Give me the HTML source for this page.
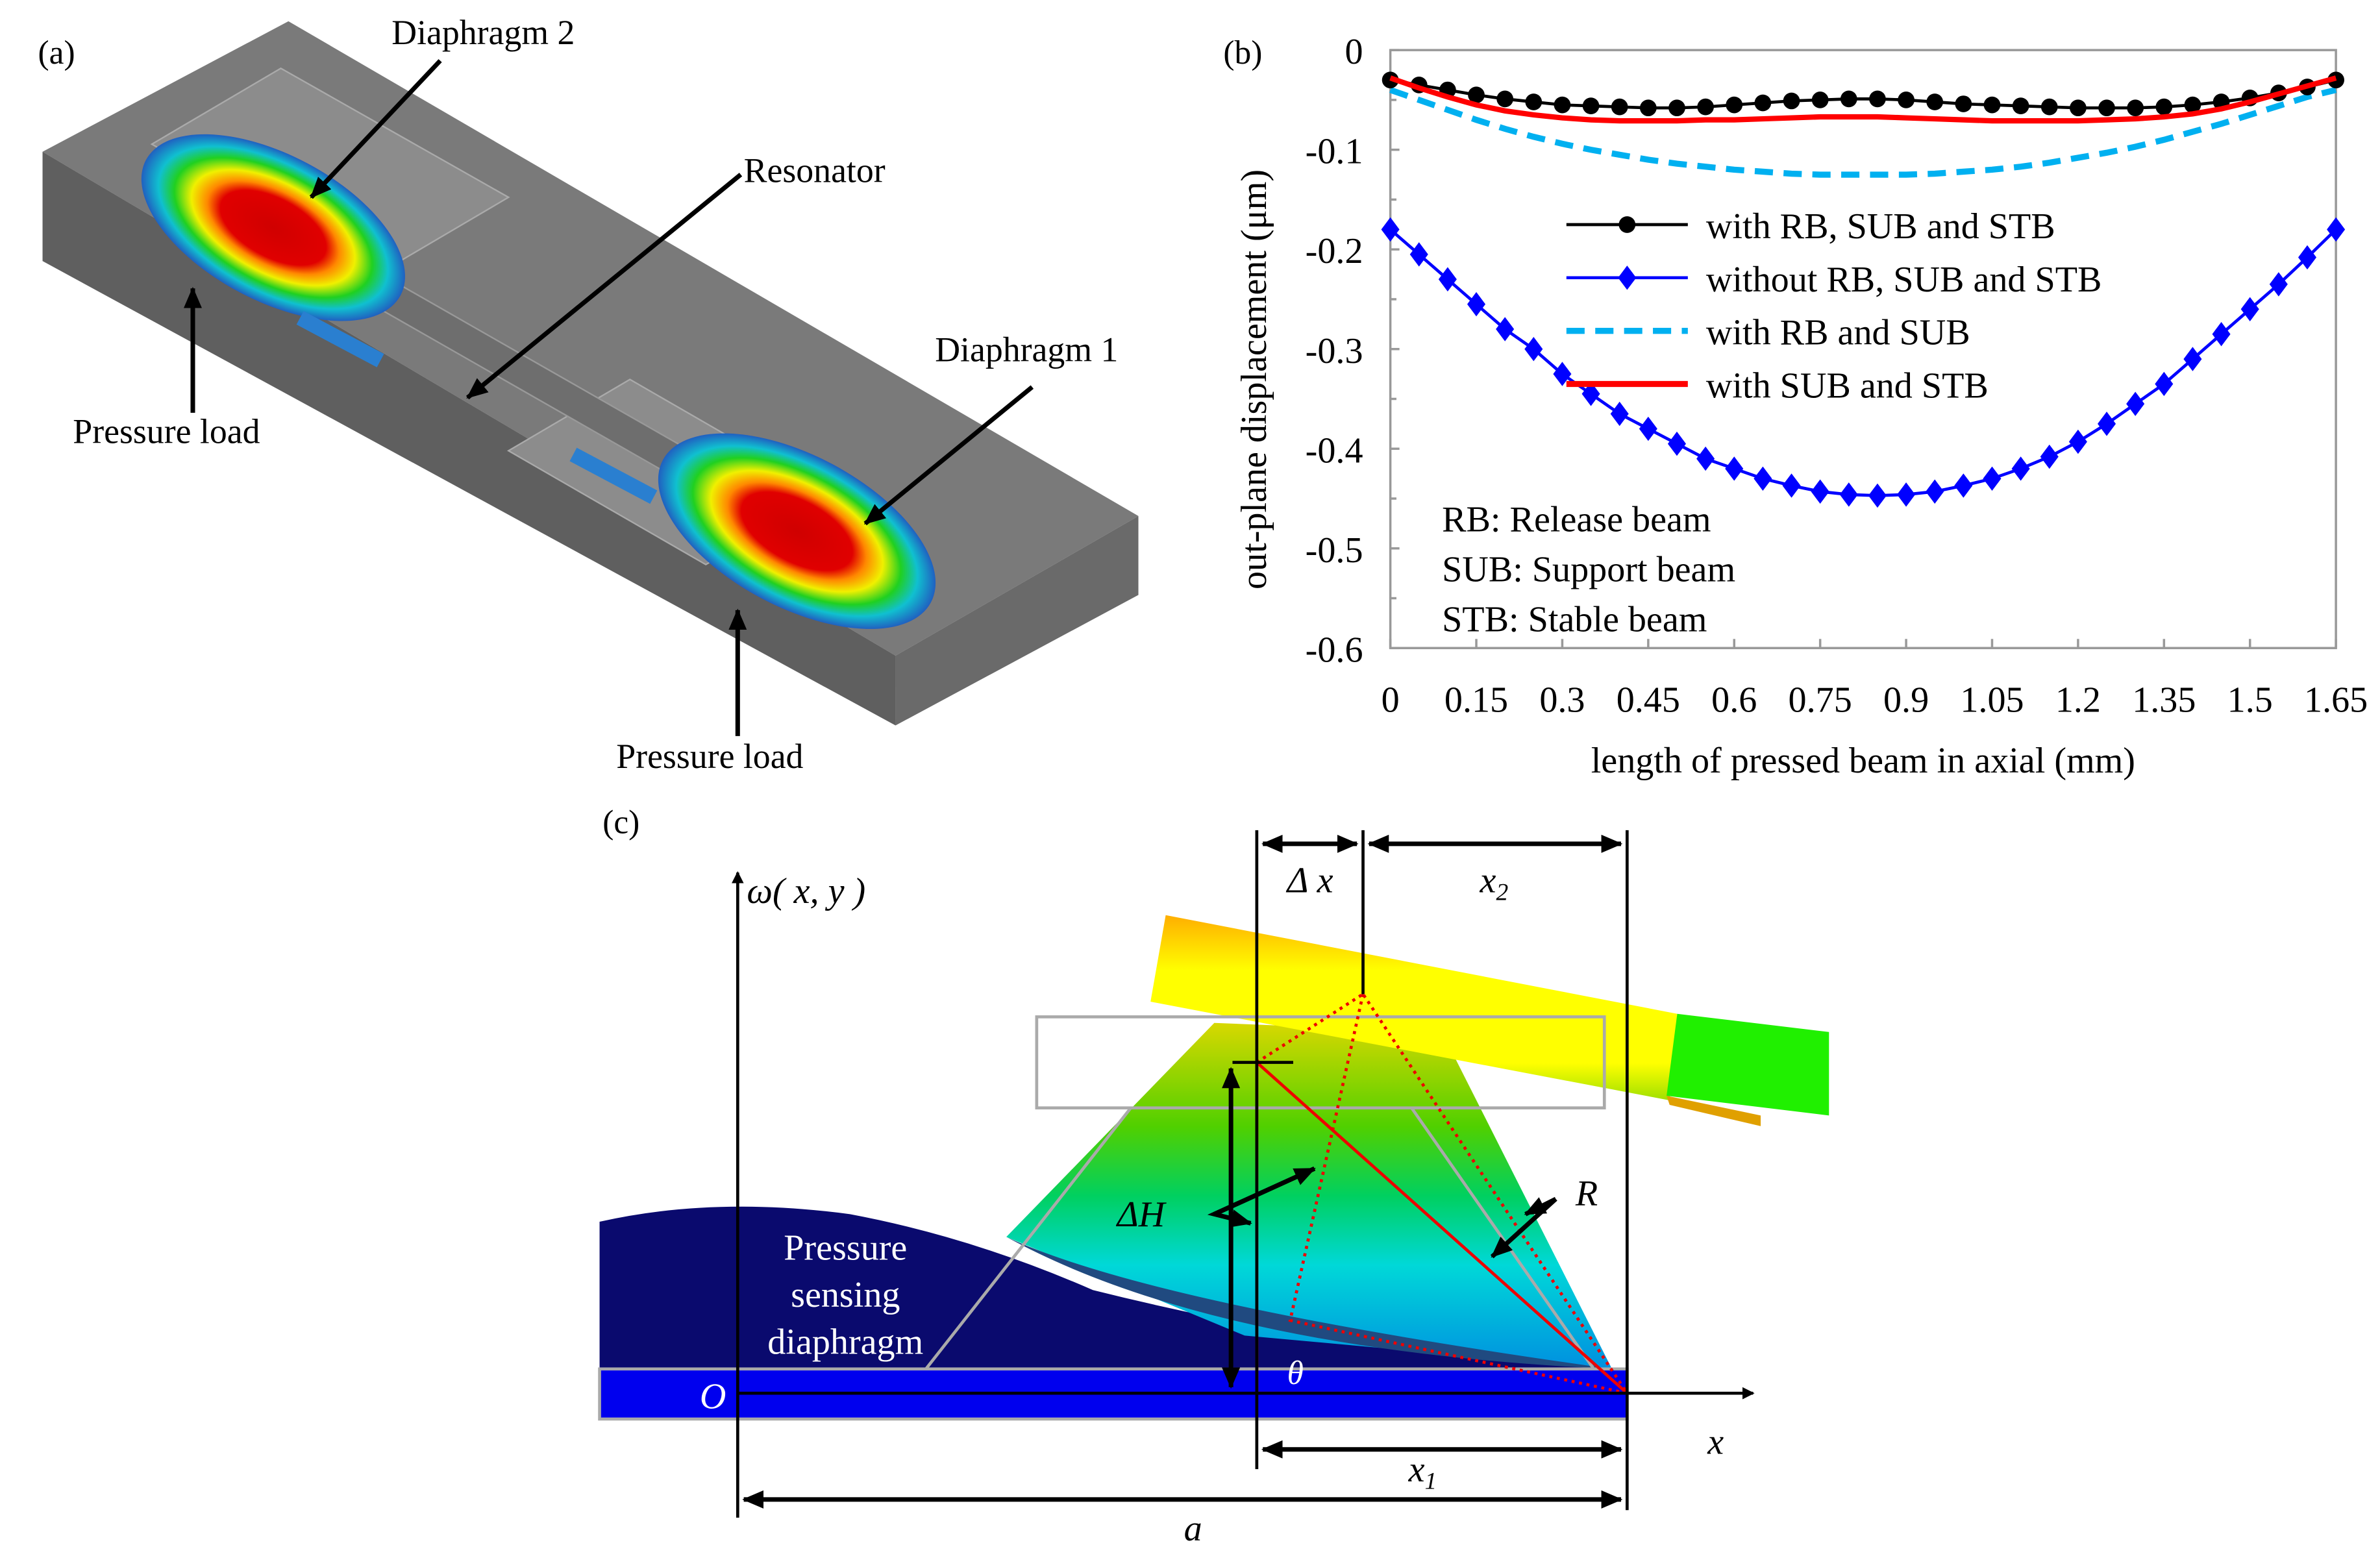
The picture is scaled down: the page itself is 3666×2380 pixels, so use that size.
<!DOCTYPE html>
<html><head><meta charset="utf-8"><style>
html,body{margin:0;padding:0;background:#fff}
svg{display:block}
text{font-family:"Liberation Serif",serif;fill:#000}
</style></head><body>
<svg id="fig" width="3666" height="2380" viewBox="0 0 1568 1018" xmlns="http://www.w3.org/2000/svg">
<defs>
<marker id="ah" markerWidth="8" markerHeight="8" refX="7" refY="4" orient="auto" markerUnits="userSpaceOnUse"><path d="M0,0 L8,4 L0,8 z" fill="#000"/></marker>
<marker id="ah2" markerWidth="14" markerHeight="12" refX="13" refY="6" orient="auto" markerUnits="userSpaceOnUse"><path d="M0,0 L14,6 L0,12 z" fill="#000"/></marker>
<marker id="as" markerWidth="14" markerHeight="12" refX="1" refY="6" orient="auto" markerUnits="userSpaceOnUse"><path d="M14,0 L0,6 L14,12 z" fill="#000"/></marker>
<radialGradient id="rb" cx="0.5" cy="0.5" r="0.5">
<stop offset="0" stop-color="#d00000"/><stop offset="0.4" stop-color="#e00000"/><stop offset="0.5" stop-color="#ff8800"/><stop offset="0.62" stop-color="#f0f000"/><stop offset="0.75" stop-color="#20d020"/><stop offset="0.87" stop-color="#10c0d0"/><stop offset="1" stop-color="#2060c0"/></radialGradient>
<linearGradient id="trap" x1="0" y1="0" x2="0" y2="1">
<stop offset="0" stop-color="#d8d800"/><stop offset="0.3" stop-color="#50d000"/><stop offset="0.5" stop-color="#00d060"/><stop offset="0.7" stop-color="#00d8d8"/><stop offset="1" stop-color="#0090e0"/></linearGradient>
<linearGradient id="beam" x1="0" y1="0" x2="0" y2="1">
<stop offset="0" stop-color="#ffae00"/><stop offset="0.3" stop-color="#ffff00"/><stop offset="0.8" stop-color="#ffff00"/><stop offset="1" stop-color="#a0e000"/></linearGradient>
</defs>

<!-- Panel (a) -->
<g>
<text x="25" y="42" font-size="22">(a)</text>
<polygon points="28,100 190,14 750,340 590,432" fill="#7a7a7a"/>
<polygon points="28,100 28,172 590,478 590,432" fill="#5f5f5f"/>
<polygon points="590,432 750,340 750,392 590,478" fill="#6a6a6a"/>
<polygon points="185,45 335,130 250,180 100,95" fill="#8c8c8c" stroke="#aaa"/>
<polygon points="415,250 545,325 465,372 335,297" fill="#8c8c8c" stroke="#aaa"/>
<polygon points="250,180 460,300 440,312 230,192" fill="#6e6e6e" stroke="#999"/>
<ellipse cx="180" cy="150" rx="95" ry="48" fill="url(#rb)" transform="rotate(28 180 150)"/>
<ellipse cx="525" cy="350" rx="100" ry="50" fill="url(#rb)" transform="rotate(28 525 350)"/>
<rect x="200" y="205" width="60" height="10" fill="#2a7fd0" transform="rotate(28 200 205)"/>
<rect x="380" y="295" width="60" height="10" fill="#2a7fd0" transform="rotate(28 380 295)"/>
<g stroke="#000" stroke-width="3" fill="none">
<line x1="290" y1="40" x2="205" y2="130" marker-end="url(#ah2)"/>
<line x1="488" y1="115" x2="308" y2="262" marker-end="url(#ah2)"/>
<line x1="680" y1="255" x2="570" y2="345" marker-end="url(#ah2)"/>
<line x1="127" y1="272" x2="127" y2="190" marker-end="url(#ah2)"/>
<line x1="486" y1="485" x2="486" y2="402" marker-end="url(#ah2)"/>
</g>
<text x="258" y="29" font-size="23">Diaphragm 2</text>
<text x="490" y="120" font-size="23">Resonator</text>
<text x="616" y="238" font-size="23">Diaphragm 1</text>
<text x="48" y="292" font-size="23">Pressure load</text>
<text x="406" y="506" font-size="23">Pressure load</text>
</g>

<!-- Panel (b) chart -->
<g id="chart">
<text x="806" y="42" font-size="22">(b)</text>
</g>

<!-- Panel (c) -->
<g>
<text x="397" y="549" font-size="22">(c)</text>
<path d="M395,805 Q470,788 560,800 Q640,815 720,850 Q900,895 1072,902 L1072,902 L395,902 Z" fill="#0a0a6e"/>
<polygon points="663,815 800,674 950,680 1062,902 820,880" fill="url(#trap)"/>
<path d="M663,815 Q760,860 1062,902 L1062,902 Q800,890 663,815" fill="#204a80"/>
<polygon points="768,603 1105,668 1100,725 758,660" fill="url(#beam)"/>
<polygon points="1105,668 1205,680 1205,735 1098,722" fill="#20f000"/>
<polygon points="1098,722 1160,735 1160,742 1100,728" fill="#e0a000"/>
<rect x="395" y="902" width="677" height="33" fill="#0000ee" stroke="#aaa" stroke-width="2"/>
<rect x="683" y="670" width="374" height="60" fill="none" stroke="#aaa" stroke-width="2"/>
<line x1="745" y1="730" x2="610" y2="902" stroke="#aaa" stroke-width="2"/>
<line x1="930" y1="730" x2="1050" y2="902" stroke="#aaa" stroke-width="2"/>
<polygon points="828,700 828,918 1072,918" fill="none" stroke="#e00" stroke-width="2"/>
<polygon points="898,655 850,870 1072,918" fill="none" stroke="#e00" stroke-width="2" stroke-dasharray="2,3"/>
<line x1="828" y1="700" x2="898" y2="655" stroke="#e00" stroke-width="2" stroke-dasharray="2,3"/>
<g stroke="#000" stroke-width="2" fill="none">
<line x1="486" y1="1000" x2="486" y2="575" marker-end="url(#ah)"/>
<line x1="486" y1="918" x2="1155" y2="918" marker-end="url(#ah)"/>
<line x1="828" y1="547" x2="828" y2="968"/>
<line x1="898" y1="547" x2="898" y2="655"/>
<line x1="1072" y1="547" x2="1072" y2="995"/>
<line x1="812" y1="700" x2="852" y2="700"/>
<line x1="832" y1="556" x2="894" y2="556" marker-start="url(#as)" marker-end="url(#ah2)" stroke-width="3"/>
<line x1="902" y1="556" x2="1068" y2="556" marker-start="url(#as)" marker-end="url(#ah2)" stroke-width="3"/>
<line x1="832" y1="955" x2="1068" y2="955" marker-start="url(#as)" marker-end="url(#ah2)" stroke-width="3"/>
<line x1="490" y1="988" x2="1068" y2="988" marker-start="url(#as)" marker-end="url(#ah2)" stroke-width="3"/>
<line x1="811" y1="704" x2="811" y2="914" marker-start="url(#as)" marker-end="url(#ah2)" stroke-width="3"/>
<polyline points="866,770 800,800 824,806" stroke-width="3" marker-end="url(#ah2)"/>
<line x1="800" y1="800" x2="866" y2="770" stroke-width="3" marker-end="url(#ah2)"/>
<polyline points="1025,790 1005,800" stroke-width="3" marker-end="url(#ah2)"/>
<line x1="1025" y1="790" x2="983" y2="828" stroke-width="3" marker-end="url(#ah2)"/>
</g>
<text x="492" y="595" font-size="24" font-style="italic">ω( x, y )</text>
<text x="848" y="588" font-size="24" font-style="italic">Δ x</text>
<text x="975" y="588" font-size="24" font-style="italic">x<tspan font-size="16" dy="5">2</tspan></text>
<text x="736" y="808" font-size="24" font-style="italic">ΔH</text>
<text x="1038" y="794" font-size="24" font-style="italic">R</text>
<text x="848" y="912" font-size="22" font-style="italic" style="fill:#fff">θ</text>
<text x="461" y="928" font-size="24" font-style="italic" style="fill:#fff">O</text>
<text x="1125" y="958" font-size="24" font-style="italic">x</text>
<text x="928" y="976" font-size="24" font-style="italic">x<tspan font-size="16" dy="5">1</tspan></text>
<text x="780" y="1015" font-size="24" font-style="italic">a</text>
<text x="557" y="830" font-size="24" text-anchor="middle" style="fill:#fff">Pressure</text>
<text x="557" y="861" font-size="24" text-anchor="middle" style="fill:#fff">sensing</text>
<text x="557" y="892" font-size="24" text-anchor="middle" style="fill:#fff">diaphragm</text>
</g>
</svg>
<script>
const xs = [0,0.05,0.1,0.15,0.2,0.25,0.3,0.35,0.4,0.45,0.5,0.55,0.6,0.65,0.7,0.75,0.8,0.85,0.9,0.95,1.0,1.05,1.1,1.15,1.2,1.25,1.3,1.35,1.4,1.45,1.5,1.55,1.6,1.65];
const withAll = [-0.03,-0.035,-0.04,-0.045,-0.049,-0.052,-0.055,-0.056,-0.057,-0.058,-0.058,-0.057,-0.055,-0.053,-0.051,-0.05,-0.049,-0.049,-0.05,-0.052,-0.054,-0.055,-0.056,-0.057,-0.058,-0.058,-0.058,-0.057,-0.055,-0.052,-0.048,-0.043,-0.037,-0.03];
const withoutAll = [-0.18,-0.205,-0.23,-0.255,-0.28,-0.30,-0.325,-0.345,-0.365,-0.38,-0.395,-0.41,-0.42,-0.43,-0.437,-0.443,-0.446,-0.447,-0.446,-0.443,-0.437,-0.43,-0.42,-0.408,-0.393,-0.375,-0.355,-0.335,-0.31,-0.285,-0.26,-0.235,-0.208,-0.18];
const withRbSub = [-0.04,-0.05,-0.06,-0.07,-0.079,-0.087,-0.094,-0.1,-0.105,-0.11,-0.114,-0.117,-0.12,-0.122,-0.124,-0.125,-0.125,-0.125,-0.125,-0.124,-0.122,-0.12,-0.117,-0.113,-0.108,-0.103,-0.097,-0.09,-0.082,-0.074,-0.065,-0.056,-0.047,-0.04];
const withSubStb = [-0.028,-0.038,-0.047,-0.055,-0.061,-0.065,-0.068,-0.07,-0.071,-0.071,-0.071,-0.07,-0.07,-0.069,-0.068,-0.067,-0.067,-0.067,-0.068,-0.069,-0.07,-0.071,-0.071,-0.071,-0.071,-0.07,-0.069,-0.067,-0.064,-0.059,-0.052,-0.044,-0.036,-0.028];
const xTicks = ["0","0.15","0.3","0.45","0.6","0.75","0.9","1.05","1.2","1.35","1.5","1.65"];
const yTicks = ["0","-0.1","-0.2","-0.3","-0.4","-0.5","-0.6"];

const NS="http://www.w3.org/2000/svg";
const g=document.getElementById('chart');
const L=916,R=1539,T=33,B=427;
const xMin=0,xMax=1.65,yMin=-0.6,yMax=0;
const sx=v=>L+(v-xMin)/(xMax-xMin)*(R-L);
const sy=v=>T+(yMax-v)/(yMax-yMin)*(B-T);
function mk(tag,attrs,parent){const e=document.createElementNS(NS,tag);for(const k in attrs)e.setAttribute(k,attrs[k]);(parent||g).appendChild(e);return e;}

const frame=mk('rect',{x:L,y:T,width:R-L,height:B-T,fill:'none',stroke:'#999','stroke-width':1.5});



yTicks.forEach((t,i)=>{
  const v=parseFloat(t);const y=sy(v);
  const tk=mk('line',{x1:L,x2:L+6,y1:y,y2:y,stroke:'#999','stroke-width':1.5});
  
  
  if(i<yTicks.length-1){const m=sy(v-0.05);mk('line',{x1:L,x2:L+4,y1:m,y2:m,stroke:'#999','stroke-width':1.5});}
  const tx=mk('text',{x:L-18,y:y+9,'font-size':24,'text-anchor':'end'});tx.textContent=t;
  
  
});
xTicks.forEach(t=>{
  const v=parseFloat(t);const x=sx(v);
  const tk=mk('line',{x1:x,x2:x,y1:B,y2:B-6,stroke:'#999','stroke-width':1.5});
  
  
  const tx=mk('text',{x:x,y:B+42,'font-size':24,'text-anchor':'middle'});tx.textContent=t;
  
  
});
const xt=mk('text',{x:(L+R)/2,y:509,'font-size':24,'text-anchor':'middle'});xt.textContent='length of pressed beam in axial  (mm)';


const yt=mk('text',{x:0,y:0,'font-size':24,'text-anchor':'middle',transform:`translate(834,${(T+B)/2+20}) rotate(-90)`});yt.textContent='out-plane displacement  (μm)';



function path(vals){return vals.map((v,i)=>(i?'L':'M')+sx(xs[i]).toFixed(2)+','+sy(v).toFixed(2)).join(' ');}
const lc=mk('path',{d:path(withRbSub),fill:'none',stroke:'#00b0f0','stroke-width':4,'stroke-dasharray':'12,7'});


const lb=mk('path',{d:path(withoutAll),fill:'none',stroke:'#0000ff','stroke-width':2});


withoutAll.forEach((v,i)=>{const x=sx(xs[i]),y=sy(v);
  const d=mk('polygon',{points:`${x},${y-8} ${x+6},${y} ${x},${y+8} ${x-6},${y}`,fill:'#0000ff'});
  
  });
const lk=mk('path',{d:path(withAll),fill:'none',stroke:'#000','stroke-width':2});


withAll.forEach((v,i)=>{
  const c=mk('circle',{cx:sx(xs[i]),cy:sy(v),r:5.5,fill:'#000'});
  
  });
const lr=mk('path',{d:path(withSubStb),fill:'none',stroke:'#ff0000','stroke-width':3.5});



const leg=[["with RB, SUB and STB","#000","dot"],["without RB, SUB and STB","#0000ff","dia"],["with RB and SUB","#00b0f0","dash"],["with SUB and STB","#ff0000","thick"]];
leg.forEach((e,i)=>{
  const y=148+i*35;
  const ln=mk('line',{x1:1032,x2:1112,y1:y,y2:y,stroke:e[1],'stroke-width':e[2]==='thick'?4:(e[2]==='dash'?4:2)});
  if(e[2]==='dash')ln.setAttribute('stroke-dasharray','12,7');
  
  
  if(e[2]==='dot')mk('circle',{cx:1072,cy:y,r:5.5,fill:'#000'});
  if(e[2]==='dia')mk('polygon',{points:`1072,${y-8} 1078,${y} 1072,${y+8} 1066,${y}`,fill:'#0000ff'});
  const t=mk('text',{x:1124,y:y+9,'font-size':24});t.textContent=e[0];
  
  
});
["RB: Release  beam","SUB: Support beam","STB: Stable beam"].forEach((s,i)=>{
  const t=mk('text',{x:950,y:350+i*33,'font-size':24});t.textContent=s;
  
  
});
</script>
</body></html>
